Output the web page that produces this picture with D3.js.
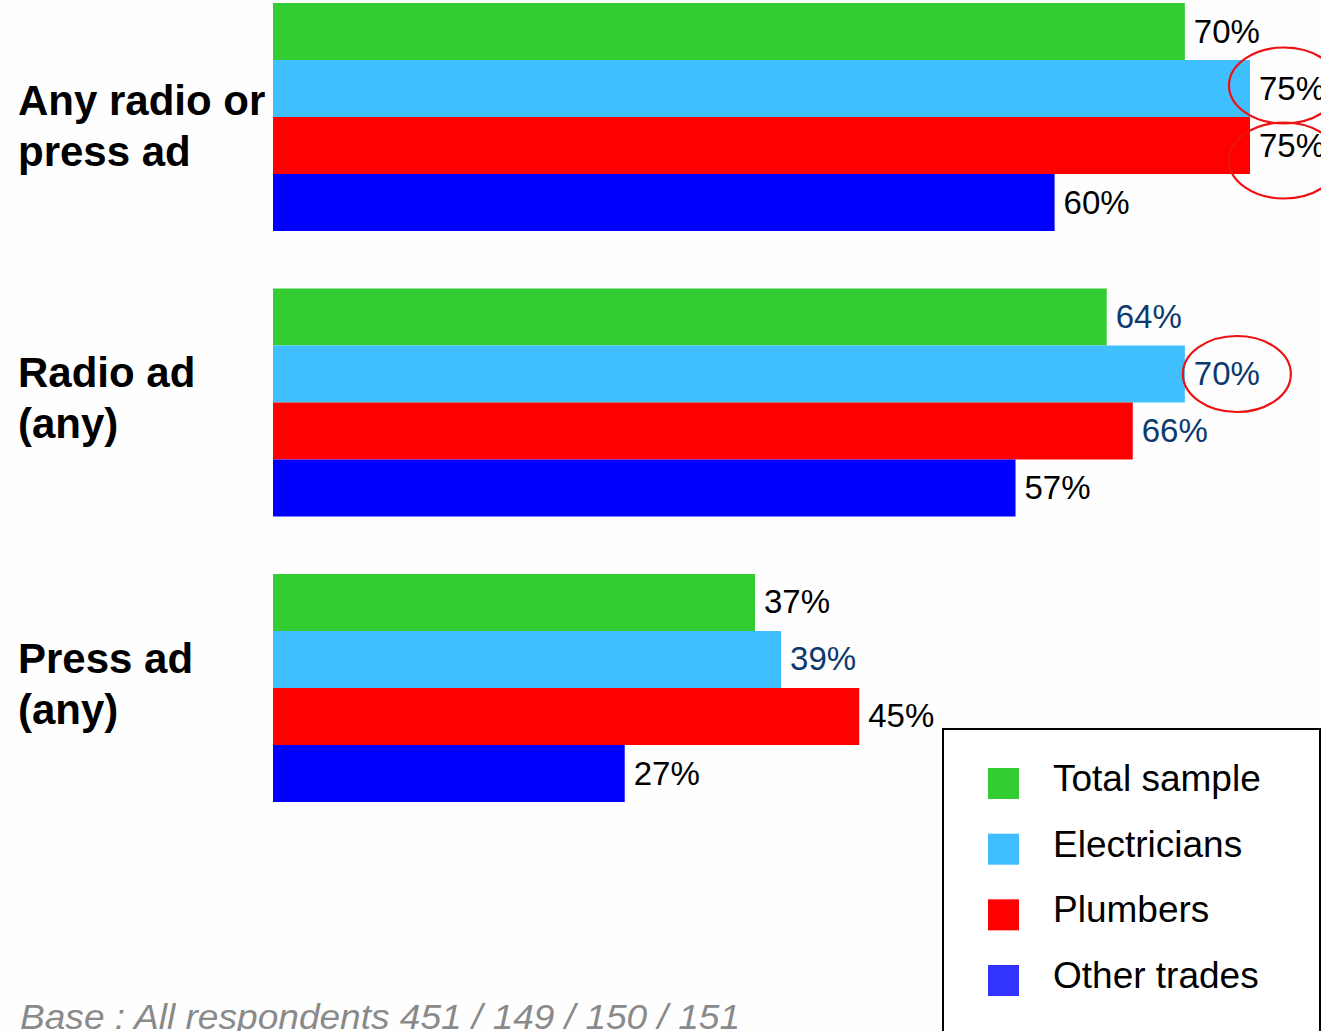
<!DOCTYPE html>
<html>
<head>
<meta charset="utf-8">
<script src="https://cdn.jsdelivr.net/npm/d3@7"></script>
<style>
  html, body { margin: 0; padding: 0; background: #fefefe; }
  svg { display: block; font-family: "Liberation Sans", Arial, sans-serif; }
</style>
</head>
<body>
<svg id="chart" width="1321" height="1031"></svg>
<script>
// data
var groups = ["Any radio or press ad", "Radio ad (any)", "Press ad (any)"];
var groupLines = [["Any radio or", "press ad"], ["Radio ad", "(any)"], ["Press ad", "(any)"]];
var series = ["Total sample", "Electricians", "Plumbers", "Other trades"];
var totalSample = [70, 64, 37];
var electricians = [75, 70, 39];
var plumbers = [75, 66, 45];
var otherTrades = [60, 57, 27];
// labels drawn in navy instead of black ("group|series")
var navyLabels = ["Radio ad (any)|Total sample", "Radio ad (any)|Electricians",
                  "Radio ad (any)|Plumbers", "Press ad (any)|Electricians"];
// values circled in red on the original
var circled = ["Any radio or press ad|Electricians", "Any radio or press ad|Plumbers",
               "Radio ad (any)|Electricians"];
var footnote = "Base : All respondents 451 / 149 / 150 / 151";

var values = [totalSample, electricians, plumbers, otherTrades];
var barColours = ["#33cc33", "#40bfff", "#ff0000", "#0000ff"];
var keyColours = ["#33cc33", "#40bfff", "#ff0000", "#3333ff"];

var svg = d3.select("#chart");

var x = d3.scaleLinear().domain([0, 75]).range([273, 1250]);
var y0 = d3.scaleBand().domain(groups).range([3, 802]).paddingInner(0.2014).paddingOuter(0);
var y1 = d3.scaleBand().domain(series).range([0, y0.bandwidth()]).padding(0);
var colour = d3.scaleOrdinal().domain(series).range(barColours);
var keyColour = d3.scaleOrdinal().domain(series).range(keyColours);

var rows = [];
groups.forEach(function(g, gi) {
  series.forEach(function(s, si) {
    rows.push({ group: g, series: s, value: values[si][gi] });
  });
});

var plot = svg.append("g");

plot.selectAll("rect.bar")
  .data(rows)
  .join("rect")
  .attr("class", "bar")
  .attr("x", x(0))
  .attr("y", d => y0(d.group) + y1(d.series))
  .attr("width", d => x(d.value) - x(0))
  .attr("height", y1.bandwidth())
  .attr("fill", d => colour(d.series));

plot.selectAll("text.val")
  .data(rows)
  .join("text")
  .attr("class", "val")
  .attr("x", d => x(d.value) + 9)
  .attr("y", d => y0(d.group) + y1(d.series) + y1.bandwidth() / 2 + 11)
  .attr("font-size", 33)
  .attr("fill", d => navyLabels.includes(d.group + "|" + d.series) ? "#0c3a6e" : "#000")
  .text(d => d.value + "%");

// red hand-drawn circles
var rings = rows.filter(d => circled.includes(d.group + "|" + d.series));
plot.selectAll("ellipse.ring")
  .data(rings)
  .join("ellipse")
  .attr("class", "ring")
  .attr("cx", (d, i) => i === 2 ? x(d.value) + 52 : x(d.value) + 34)
  .attr("cy", (d, i) => {
    var c = y0(d.group) + y1(d.series) + y1.bandwidth() / 2;
    return i === 0 ? c - 3 : (i === 1 ? c + 15 : c);
  })
  .attr("rx", (d, i) => i === 2 ? 54 : 55)
  .attr("ry", 38)
  .attr("fill", "none")
  .attr("stroke", "#ee1111")
  .attr("stroke-width", 2.2);

// category labels
var cats = svg.append("g").selectAll("text.cat")
  .data(groups)
  .join("text")
  .attr("class", "cat")
  .attr("font-size", 42)
  .attr("font-weight", "bold")
  .attr("fill", "#000");
cats.selectAll("tspan")
  .data((g, gi) => groupLines[gi].map((t, li) => ({ t: t, li: li, gi: gi, g: g })))
  .join("tspan")
  .attr("x", 18)
  .attr("y", d => y0(d.g) + (d.gi === 0 ? 112 : 99) + d.li * 51)
  .text(d => d.t);

// legend
var legend = svg.append("g");
legend.append("rect")
  .attr("x", 943).attr("y", 729)
  .attr("width", 377).attr("height", 304)
  .attr("fill", "#fff")
  .attr("stroke", "#000")
  .attr("stroke-width", 2);
var ly = d3.scalePoint().domain(series).range([768, 965]);
var items = legend.selectAll("g.item")
  .data(series)
  .join("g")
  .attr("class", "item");
items.append("rect")
  .attr("x", 988)
  .attr("y", d => ly(d))
  .attr("width", 31)
  .attr("height", 31)
  .attr("fill", d => keyColour(d));
items.append("text")
  .attr("x", 1053)
  .attr("y", d => ly(d) + 23)
  .attr("font-size", 37)
  .attr("fill", "#000")
  .text(d => d);

// footnote
svg.append("text")
  .attr("x", 20)
  .attr("y", 1029)
  .attr("font-size", 35)
  .attr("font-style", "italic")
  .attr("fill", "#8a8a8a")
  .attr("textLength", 720)
  .attr("lengthAdjust", "spacingAndGlyphs")
  .text(footnote);
</script>
</body>
</html>
